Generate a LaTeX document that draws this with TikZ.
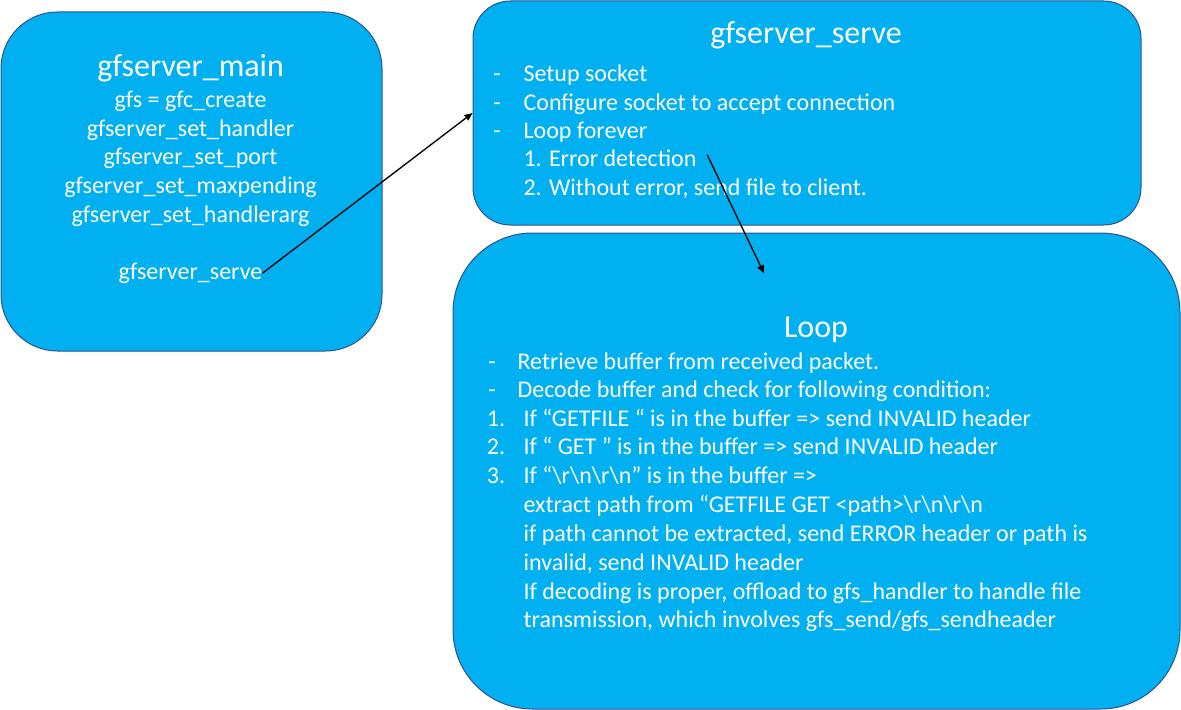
\documentclass[tikz,border=0pt]{standalone}
\usepackage{fontspec}
\setmainfont{Carlito}
\usetikzlibrary{arrows.meta}
\definecolor{boxfill}{HTML}{00B0F0}
\definecolor{boxline}{HTML}{2F528F}
\begin{document}
\begin{tikzpicture}[x=0.75pt,y=-0.75pt,
  box/.style={draw=boxline, line width=0.75pt, fill=boxfill, inner sep=0pt},
  ttl/.style={text=white, font=\fontsize{24}{29}\selectfont, anchor=base, inner sep=0pt},
  txt/.style={text=white, font=\fontsize{18}{21.5}\selectfont, anchor=base west, inner sep=0pt},
  ctr/.style={txt, anchor=base},
  arr/.style={-{Triangle[length=6pt,width=5pt]}, line width=1pt, black}]
\useasboundingbox (0,0) rectangle (1181,710);
% boxes
\node[box, minimum width=285.75pt, minimum height=254.25pt, rounded corners=42.4pt] (b1) at (191.5,181.5) {};
\node[box, minimum width=501pt, minimum height=168pt, rounded corners=28pt] (b2) at (807,113) {};
\node[box, minimum width=545.25pt, minimum height=357pt, rounded corners=59.5pt] (b3) at (816.5,471) {};
% box 1 text
\node[ttl] (t1) at (190.5,77) {gfserver\_main};
\node[ctr] (m1) at (190.5,107.3) {gfs = gfc\_create};
\node[ctr] (m2) at (190.5,136) {gfserver\_set\_handler};
\node[ctr] (m3) at (190.5,164.7) {gfserver\_set\_port};
\node[ctr] (m4) at (190.5,193.3) {gfserver\_set\_maxpending};
\node[ctr] (m5) at (190.5,222) {gfserver\_set\_handlerarg};
\node[ctr] (m6) at (190.5,279.3) {gfserver\_serve};
% box 2 text
\node[ttl] (t2) at (806,43.3) {gfserver\_serve};
\node[txt] (d1) at (493,81.7) {-};
\node[txt] (s1) at (523.3,81.7) {Setup socket};
\node[txt] (d2) at (493,110) {-};
\node[txt] (s2) at (523.3,110) {Configure socket to accept connection};
\node[txt] (d3) at (493,138.3) {-};
\node[txt] (s3) at (523.3,138.3) {Loop forever};
\node[txt] (s4) at (523.3,166.7) {1. Error detection};
\node[txt] (s5) at (523.3,195) {2. Without error, send file to client.};
% box 3 text
\node[ttl] (t3) at (816,337) {Loop};
\node[txt] (e1) at (488,369) {-};
\node[txt] (l1) at (517.3,369) {Retrieve buffer from received packet.};
\node[txt] (e2) at (488,397.5) {-};
\node[txt] (l2) at (517.3,397.5) {Decode buffer and check for following condition:};
\node[txt] (n1) at (486.7,426) {1.};
\node[txt] (l3) at (523.3,426) {If “GETFILE “ is in the buffer => send INVALID header};
\node[txt] (n2) at (486.7,454.7) {2.};
\node[txt] (l4) at (523.3,454.7) {If “ GET ” is in the buffer => send INVALID header};
\node[txt] (n3) at (486.7,483.3) {3.};
\node[txt] (l5) at (523.3,483.3) {If “\textbackslash r\textbackslash n\textbackslash r\textbackslash n” is in the buffer =>};
\node[txt] (l6) at (523.3,512.3) {extract path from “GETFILE GET <path>\textbackslash r\textbackslash n\textbackslash r\textbackslash n};
\node[txt] (l7) at (523.3,541.3) {if path cannot be extracted, send ERROR header or path is};
\node[txt] (l8) at (523.3,570) {invalid, send INVALID header};
\node[txt] (l9) at (523.3,599) {If decoding is proper, offload to gfs\_handler to handle file};
\node[txt] (l10) at (523.3,627.7) {transmission, which involves gfs\_send/gfs\_sendheader};
% connectors
\coordinate (a2s) at (707.3,155);
\coordinate (a2e) at (764,273.3);
\draw[arr] (m6.east) -- (b2.west);
\draw[arr] (a2s) -- (a2e);
\end{tikzpicture}
\end{document}
